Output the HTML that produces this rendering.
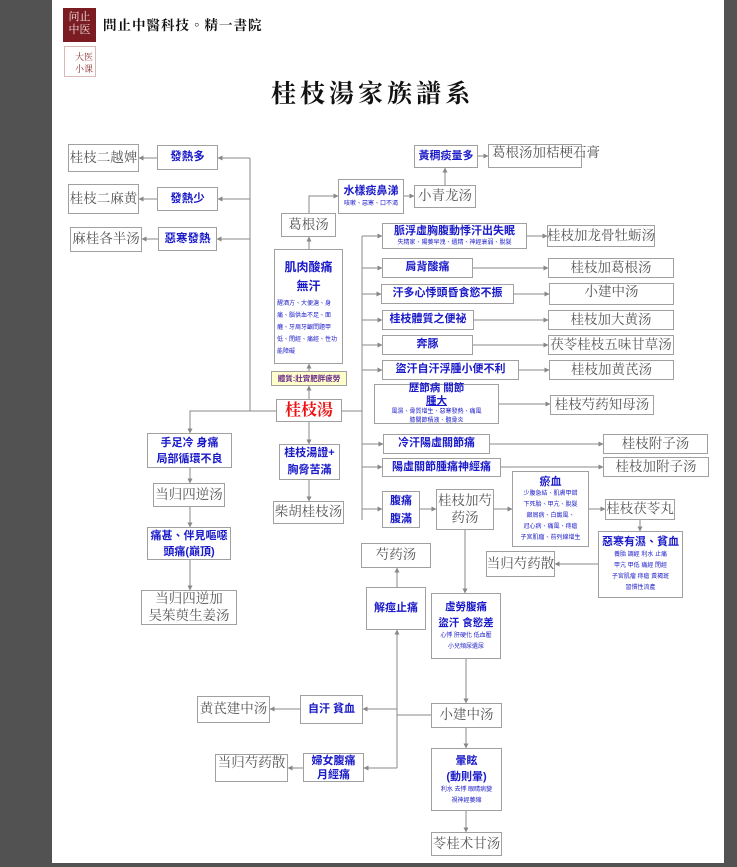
<!DOCTYPE html>
<html><head><meta charset="utf-8"><style>
*{margin:0;padding:0;box-sizing:border-box}
body{width:737px;height:867px;background:#525252;position:relative;overflow:hidden;font-family:"Liberation Sans","Noto Sans CJK TC",sans-serif}
#pg{position:absolute;left:52px;top:0;width:672px;height:863px;background:#fff}
.b{position:absolute;border:1px solid #a0a0a0;background:#fff;display:flex;flex-direction:column;align-items:center;justify-content:center;text-align:center;color:#1a1ac8;font-weight:bold;font-size:11px;line-height:1.6}
.f{position:absolute;border:1px solid #a0a0a0;background:#fff;display:flex;align-items:center;justify-content:center;text-align:center;color:#555;font-family:"Liberation Serif","Noto Serif CJK SC",serif;font-size:13.5px;line-height:1.25;white-space:nowrap}
.s{font-size:6px;font-weight:normal;line-height:1.9}
svg{position:absolute;left:0;top:0}
</style></head><body>
<div id="pg"></div>
<svg width="737" height="867"><defs><marker id="a" markerWidth="5" markerHeight="5" refX="4.5" refY="2.5" orient="auto"><path d="M0,0L5,2.5L0,5z" fill="#888"/></marker></defs>
<g stroke="#8a8a8a" stroke-width="1" fill="none">
<path d="M250 158V411H276"/>
<path d="M250 158H218" marker-end="url(#a)"/><path d="M250 199H218" marker-end="url(#a)"/><path d="M250 239H217" marker-end="url(#a)"/>
<path d="M157 158H139" marker-end="url(#a)"/><path d="M157 199H139" marker-end="url(#a)"/><path d="M158 239H142" marker-end="url(#a)"/>
<path d="M309 399V386" marker-end="url(#a)"/><path d="M309 371V364" marker-end="url(#a)"/><path d="M309 249V237" marker-end="url(#a)"/>
<path d="M309 213V196H338" marker-end="url(#a)"/><path d="M404 196H414" marker-end="url(#a)"/><path d="M445 185V168" marker-end="url(#a)"/><path d="M478 156H488" marker-end="url(#a)"/>
<path d="M342 411H362"/><path d="M362 236V520"/>
<path d="M362 236H382" marker-end="url(#a)"/><path d="M362 268H382" marker-end="url(#a)"/><path d="M362 294H381" marker-end="url(#a)"/><path d="M362 320H382" marker-end="url(#a)"/><path d="M362 345H382" marker-end="url(#a)"/><path d="M362 370H382" marker-end="url(#a)"/><path d="M362 444H383" marker-end="url(#a)"/><path d="M362 467H382" marker-end="url(#a)"/><path d="M362 509H382" marker-end="url(#a)"/>
<path d="M527 236H547" marker-end="url(#a)"/><path d="M473 268H548" marker-end="url(#a)"/><path d="M514 294H549" marker-end="url(#a)"/><path d="M474 320H548" marker-end="url(#a)"/><path d="M473 345H548" marker-end="url(#a)"/><path d="M519 370H549" marker-end="url(#a)"/><path d="M499 404H550" marker-end="url(#a)"/><path d="M490 444H603" marker-end="url(#a)"/><path d="M501 467H603" marker-end="url(#a)"/>
<path d="M420 509H436" marker-end="url(#a)"/><path d="M494 509H512" marker-end="url(#a)"/><path d="M589 509H605" marker-end="url(#a)"/><path d="M640 520V531" marker-end="url(#a)"/><path d="M598 564H555" marker-end="url(#a)"/>
<path d="M465 530V593" marker-end="url(#a)"/><path d="M466 659V703" marker-end="url(#a)"/><path d="M466 728V748" marker-end="url(#a)"/><path d="M466 811V832" marker-end="url(#a)"/>
<path d="M431 715H397V768"/><path d="M397 715V630" marker-end="url(#a)"/><path d="M397 587V568" marker-end="url(#a)"/>
<path d="M397 709H363" marker-end="url(#a)"/><path d="M397 768H364" marker-end="url(#a)"/><path d="M300 709H270" marker-end="url(#a)"/><path d="M303 768H288" marker-end="url(#a)"/>
<path d="M250 411H190V433" marker-end="url(#a)"/><path d="M190 468V483" marker-end="url(#a)"/><path d="M190 507V527" marker-end="url(#a)"/><path d="M190 560V590" marker-end="url(#a)"/>
<path d="M309 422V444" marker-end="url(#a)"/><path d="M309 480V501" marker-end="url(#a)"/>
</g></svg>

<div style="position:absolute;left:63px;top:8px;width:33px;height:34px;background:#7a1c22;color:#f3e6e6;font-family:'Liberation Serif','Noto Serif CJK SC',serif;font-size:11px;line-height:13px;text-align:center;padding-top:3px">问止<br>中医</div>
<div style="position:absolute;left:64px;top:46px;width:32px;height:31px;border:1px solid #d9b8b8;color:#8a2a2a;font-family:'Noto Serif CJK SC',serif;font-size:9px;line-height:12px;text-align:right;padding:4px 2px 0 0">大医<br>小课</div>
<div style="position:absolute;left:103px;top:14px;font-family:'Liberation Serif','Noto Serif CJK TC',serif;font-weight:bold;font-size:13.5px;letter-spacing:1px;color:#111">問止中醫科技。精一書院</div>
<div style="position:absolute;left:271px;top:74px;font-family:'Liberation Serif','Noto Serif CJK TC',serif;font-weight:bold;font-size:25px;letter-spacing:4px;color:#111">桂枝湯家族譜系</div>

<div class="f" style="left:68px;top:144px;width:71px;height:28px">桂枝二越婢</div>
<div class="b" style="left:157px;top:145px;width:61px;height:25px;font-size:11.5px">發熱多</div>
<div class="f" style="left:68px;top:184px;width:71px;height:30px">桂枝二麻黄</div>
<div class="b" style="left:157px;top:187px;width:61px;height:24px;font-size:11.5px">發熱少</div>
<div class="f" style="left:70px;top:227px;width:72px;height:25px">麻桂各半汤</div>
<div class="b" style="left:158px;top:227px;width:59px;height:24px;font-size:11.5px">惡寒發熱</div>

<div class="f" style="left:281px;top:213px;width:55px;height:24px">葛根汤</div>
<div class="b" style="left:274px;top:249px;width:69px;height:115px;justify-content:flex-start;padding-top:8px;font-size:12px;line-height:19px">肌肉酸痛<br>無汗<div class="s" style="text-align:left;padding:2px 0 0 2px;line-height:12px">醒酒方、大便溏、身痛、腦供血不足、面癱、牙周牙齦問題甲低、閉經、痛經、性功能障礙</div></div>
<div class="b" style="left:271px;top:371px;width:76px;height:15px;background:#ffffcc;color:#6a2a8a;font-size:7.5px">體質:壯實肥胖疲勞</div>
<div class="b" style="left:276px;top:399px;width:66px;height:23px;color:#ee1111;font-size:16px;font-family:'Liberation Serif','Noto Serif CJK TC',serif">桂枝湯</div>

<div class="b" style="left:338px;top:179px;width:66px;height:35px;font-size:11px;line-height:15px">水樣痰鼻涕<span class="s" style="line-height:10px">咳嗽、惡寒、口不渴</span></div>
<div class="f" style="left:414px;top:185px;width:62px;height:23px">小青龙汤</div>
<div class="b" style="left:414px;top:145px;width:64px;height:23px">黃稠痰量多</div>
<div class="f" style="left:488px;top:144px;width:94px;height:24px;align-items:flex-start;justify-content:flex-start;padding-left:3px;overflow:visible">葛根汤加桔梗石膏</div>

<div class="b" style="left:382px;top:223px;width:145px;height:26px;line-height:14px">脈浮虛胸腹動悸汗出失眠<span class="s" style="line-height:10px">失精家、陽萎早洩、遺精、神經衰弱、脫髮</span></div>
<div class="f" style="left:547px;top:225px;width:108px;height:22px;overflow:visible">桂枝加龙骨牡蛎汤</div>
<div class="b" style="left:382px;top:258px;width:91px;height:20px">肩背酸痛</div>
<div class="f" style="left:548px;top:258px;width:126px;height:20px">桂枝加葛根汤</div>
<div class="b" style="left:381px;top:284px;width:133px;height:20px">汗多心悸頭昏食慾不振</div>
<div class="f" style="left:549px;top:283px;width:125px;height:22px;align-items:flex-start">小建中汤</div>
<div class="b" style="left:382px;top:310px;width:92px;height:20px">桂枝體質之便祕</div>
<div class="f" style="left:548px;top:310px;width:126px;height:20px">桂枝加大黄汤</div>
<div class="b" style="left:382px;top:335px;width:91px;height:20px">奔豚</div>
<div class="f" style="left:548px;top:335px;width:126px;height:20px">茯苓桂枝五味甘草汤</div>
<div class="b" style="left:382px;top:360px;width:137px;height:20px">盜汗自汗浮腫小便不利</div>
<div class="f" style="left:549px;top:360px;width:125px;height:20px">桂枝加黄芪汤</div>
<div class="b" style="left:374px;top:384px;width:125px;height:40px;line-height:13px;font-size:10.5px">歷節病 關節<u>腫大</u><span class="s" style="line-height:9px">風濕、骨質增生、惡寒發熱、痛風<br>膝關節積液、髖骨炎</span></div>
<div class="f" style="left:550px;top:395px;width:104px;height:20px">桂枝芍药知母汤</div>
<div class="b" style="left:383px;top:434px;width:107px;height:20px">冷汗陽虛關節痛</div>
<div class="f" style="left:603px;top:434px;width:105px;height:20px">桂枝附子汤</div>
<div class="b" style="left:382px;top:458px;width:119px;height:19px">陽虛關節腫痛神經痛</div>
<div class="f" style="left:603px;top:457px;width:106px;height:20px">桂枝加附子汤</div>

<div class="b" style="left:382px;top:491px;width:38px;height:37px;line-height:18px">腹痛<br>腹滿</div>
<div class="f" style="left:436px;top:489px;width:58px;height:41px;white-space:normal">桂枝加芍<br>药汤</div>
<div class="b" style="left:512px;top:471px;width:77px;height:76px;justify-content:flex-start;padding-top:3px;line-height:14px">瘀血<span class="s" style="line-height:11px">少腹急結、肌膚甲錯<br>下死胎、甲亢、脫髮<br>銀屑病、白癜風、<br>冠心病、痛風、痔瘡<br>子宮肌瘤、前列線增生</span></div>
<div class="f" style="left:605px;top:499px;width:70px;height:21px">桂枝茯苓丸</div>
<div class="b" style="left:598px;top:531px;width:85px;height:67px;justify-content:flex-start;padding-top:3px;line-height:15px">惡寒有濕、貧血<span class="s" style="line-height:11px">養胎 調經 利水 止痛<br>甲亢 甲低 痛經 閉經<br>子宮肌瘤 痔瘡 黃褐斑<br>習慣性流產</span></div>
<div class="f" style="left:486px;top:551px;width:69px;height:26px">当归芍药散</div>

<div class="f" style="left:361px;top:543px;width:70px;height:25px">芍药汤</div>
<div class="b" style="left:366px;top:587px;width:60px;height:43px">解痙止痛</div>
<div class="b" style="left:431px;top:593px;width:70px;height:66px;line-height:16px;font-size:10.5px">虛勞腹痛<br>盜汗 食慾差<span class="s" style="line-height:11px">心悸 肝硬化 低血壓<br>小兒頻尿遺尿</span></div>
<div class="f" style="left:431px;top:703px;width:71px;height:25px">小建中汤</div>
<div class="b" style="left:300px;top:695px;width:63px;height:29px">自汗 貧血</div>
<div class="f" style="left:197px;top:696px;width:73px;height:27px">黄芪建中汤</div>
<div class="b" style="left:303px;top:753px;width:61px;height:29px;line-height:14px">婦女腹痛<br>月經痛</div>
<div class="f" style="left:215px;top:754px;width:73px;height:28px;align-items:flex-start">当归芍药散</div>
<div class="b" style="left:431px;top:748px;width:71px;height:63px;line-height:16px">暈眩<br>(動則暈)<span class="s" style="line-height:11px">利水 去悸 眼睛病變<br>視神經萎縮</span></div>
<div class="f" style="left:431px;top:832px;width:71px;height:24px">苓桂术甘汤</div>

<div class="b" style="left:147px;top:433px;width:85px;height:35px;line-height:16px">手足冷 身痛<br>局部循環不良</div>
<div class="f" style="left:153px;top:483px;width:72px;height:24px">当归四逆汤</div>
<div class="b" style="left:147px;top:527px;width:84px;height:33px;line-height:16px">痛甚、伴見嘔噁<br>頭痛(巔頂)</div>
<div class="f" style="left:141px;top:590px;width:96px;height:35px;white-space:normal">当归四逆加<br>吴茱萸生姜汤</div>
<div class="b" style="left:279px;top:444px;width:61px;height:36px;line-height:17px">桂枝湯證+<br>胸脅苦滿</div>
<div class="f" style="left:273px;top:501px;width:71px;height:23px">柴胡桂枝汤</div>
</body></html>
